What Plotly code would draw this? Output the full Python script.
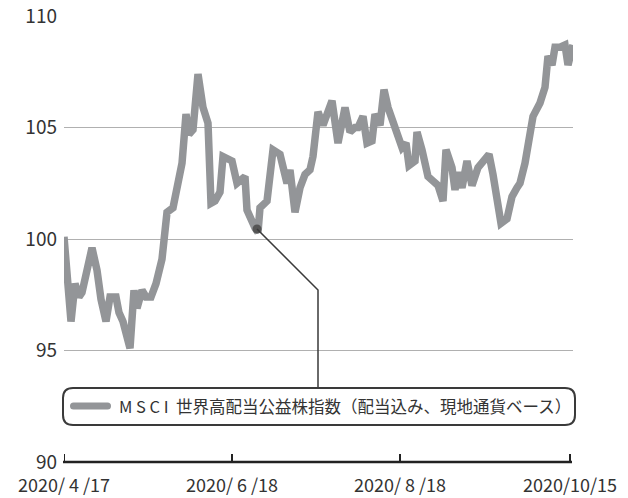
import plotly.graph_objects as go

# ---- data (x = position along the time axis, in trading-day-like units; y = index value) ----
x_pos = [0, 3, 7, 11, 15, 18, 22, 28, 33, 37, 42, 46, 52, 55, 59, 63, 66, 70, 73, 78, 82, 87, 92, 98,
         99, 103, 109, 118, 122, 125, 129, 134, 139, 144, 147, 151, 156, 159, 168, 173, 181, 183, 191,
         194, 196, 203, 209, 216, 223, 226, 231, 236, 241, 246, 249, 254, 259, 263, 268, 274, 281,
         286, 291, 294, 299, 303, 308, 311, 316, 320, 324, 331, 338, 342, 345, 351, 353, 358, 364,
         369, 374, 379, 382, 388, 391, 394, 398, 403, 408, 414, 425, 429, 433, 437, 443, 448, 453,
         456, 461, 466, 469, 476, 481, 484, 488, 491, 496, 501, 504, 509]
values = [100.1, 98.6, 96.3, 98.0, 97.4, 97.6, 98.5, 99.6, 98.6, 97.3, 96.3, 97.4, 97.4, 96.7, 96.3, 95.7,
          95.1, 97.7, 96.9, 97.7, 97.4, 97.4, 98.0, 99.1,
          99.6, 101.2, 101.4, 103.4, 105.6, 104.7, 104.9, 107.4, 105.9, 105.2, 101.6, 101.7, 102.1,
          103.7, 103.5, 102.5, 102.8, 101.3, 100.5, 100.3, 101.4, 101.7, 104.0, 103.8, 102.5, 103.1,
          101.2, 102.3, 102.9, 103.1, 103.7, 105.7, 105.1, 105.6, 106.2, 104.3, 105.9, 104.8, 105.0,
          105.0, 105.5, 104.3, 104.4, 105.6, 105.1, 106.7, 105.9, 105.0, 104.1, 104.3, 103.3, 103.5,
          104.8, 104.0, 102.8, 102.6, 102.4, 101.7, 104.0, 103.2, 102.2, 103.0, 102.3, 103.5, 102.4,
          103.2, 103.8, 102.9, 101.9, 100.7, 100.9, 101.9, 102.3, 102.5, 103.4, 104.7, 105.5, 106.1,
          106.8, 108.2, 107.8, 108.6, 108.6, 108.7, 107.8, 108.7]
tick_pos = [0, 168, 336, 506]
tick_labels = ["2020/ 4 /17", "2020/ 6 /18", "2020/ 8 /18", "2020/10/15"]
y_ticks = [90, 95, 100, 105, 110]
series_name = "M S C I  世界高配当公益株指数（配当込み、現地通貨ベース）"
callout_x = 193
callout_y = 100.45

LINE_GRAY = "#939598"
DARK = "#3a3a3a"
FONT = "Noto Sans CJK JP"

W, H = 628, 498
L, R, T, B = 64, 55, 16, 36
PW, PH = W - L - R, H - T - B


def px(x):
    return (x - L) / PW


def py(y):
    return (H - B - y) / PH


def P(x, y):
    return f"{px(x)},{py(y)}"


fig = go.Figure()
fig.add_trace(go.Scatter(
    x=x_pos, y=values, mode="lines",
    line=dict(color=LINE_GRAY, width=7.5),
    showlegend=False, hoverinfo="skip"))
fig.add_trace(go.Scatter(
    x=[callout_x], y=[callout_y], mode="markers",
    marker=dict(color="#555555", size=9),
    showlegend=False, hoverinfo="skip"))

shapes = []
# leader line from callout dot to legend box
x0d = px(L + callout_x)
y0d = (callout_y - 90) / 20
shapes.append(dict(type="path", xref="paper", yref="paper",
                   path=f"M {x0d},{y0d} L {P(318, 290)} L {P(318, 388)}",
                   line=dict(color=DARK, width=1.5)))
# rounded legend box
bx0, bx1, by0, by1, r = 63, 575, 388, 425, 10
box = (f"M {P(bx0 + r, by0)} L {P(bx1 - r, by0)} Q {P(bx1, by0)} {P(bx1, by0 + r)} "
       f"L {P(bx1, by1 - r)} Q {P(bx1, by1)} {P(bx1 - r, by1)} L {P(bx0 + r, by1)} "
       f"Q {P(bx0, by1)} {P(bx0, by1 - r)} L {P(bx0, by0 + r)} Q {P(bx0, by0)} {P(bx0 + r, by0)} Z")
shapes.append(dict(type="path", xref="paper", yref="paper", path=box,
                   fillcolor="white", line=dict(color=DARK, width=2), layer="above"))
# legend swatch (rounded bar)
sx0, sx1, sy, sr = 70, 111, 406, 3.5
sw = (f"M {P(sx0 + sr, sy - sr)} L {P(sx1 - sr, sy - sr)} Q {P(sx1, sy - sr)} {P(sx1, sy)} "
      f"Q {P(sx1, sy + sr)} {P(sx1 - sr, sy + sr)} L {P(sx0 + sr, sy + sr)} "
      f"Q {P(sx0, sy + sr)} {P(sx0, sy)} Q {P(sx0, sy - sr)} {P(sx0 + sr, sy - sr)} Z")
shapes.append(dict(type="path", xref="paper", yref="paper", path=sw,
                   fillcolor=LINE_GRAY, line=dict(width=0), layer="above"))

# x axis baseline with upward ticks
shapes.append(dict(type="line", xref="paper", yref="paper", x0=px(63), x1=px(572), y0=0, y1=0,
                   line=dict(color="#222222", width=2.5), layer="above"))
for t in tick_pos:
    shapes.append(dict(type="line", xref="x", yref="paper", x0=t, x1=t, y0=0, y1=py(454),
                       line=dict(color="#222222", width=2), layer="above"))

fig.add_annotation(xref="paper", yref="paper", x=px(117), y=py(406),
                   text=series_name, showarrow=False, xanchor="left", yanchor="middle",
                   font=dict(family=FONT, size=16.5, color="#333333"))

fig.update_layout(
    width=W, height=H,
    margin=dict(l=L, r=R, t=T, b=B, pad=0),
    paper_bgcolor="white", plot_bgcolor="white",
    font=dict(family=FONT, color="#333333"),
    shapes=shapes,
    xaxis=dict(range=[0, 509], tickvals=tick_pos, ticktext=tick_labels,
               showgrid=False, zeroline=False, showline=False, automargin=False,
               ticks="", ticklabelstandoff=11,
               tickfont=dict(size=18, family=FONT, color="#333333")),
    yaxis=dict(range=[90, 110], tickvals=y_ticks, showgrid=True, gridcolor="#b0b0b0",
               gridwidth=1, zeroline=False, showline=False, ticks="", automargin=False,
               ticklabelstandoff=6,
               tickfont=dict(size=19, family=FONT, color="#333333")),
)

fig.write_html("out.html", config={"displayModeBar": False},
               post_script="document.body.style.margin='0';document.body.style.overflow='hidden';")
